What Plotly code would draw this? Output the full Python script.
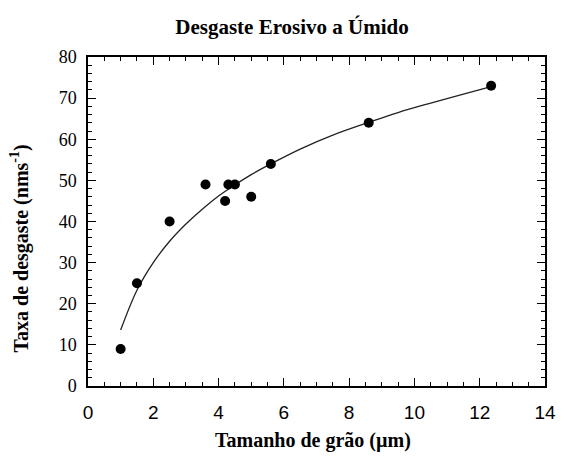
import plotly.graph_objects as go

# Measured data points
grain_size = [1.0, 1.5, 2.5, 3.6, 4.2, 4.3, 4.5, 5.0, 5.6, 8.6, 12.35]
wear_rate = [9, 25, 40, 49, 45, 49, 49, 46, 54, 64, 73]

# Trend curve
curve_x = [1.0, 1.5, 2.0, 2.5, 3.0, 3.5, 4.0, 4.5, 5.0, 5.6, 6.5, 7.5, 8.6, 9.5, 10.5, 11.5, 12.35]
curve_y = [13.6, 23.3, 30.0, 35.2, 39.4, 43.0, 46.2, 48.9, 51.4, 54.0, 57.6, 61.0, 64.1, 66.5, 68.8, 71.0, 72.8]

x_ticks = [0, 2, 4, 6, 8, 10, 12, 14]
y_ticks = [0, 10, 20, 30, 40, 50, 60, 70, 80]

title_text = "Desgaste Erosivo a Úmido"
x_title = "Tamanho de grão (µm)"
y_title = "Taxa de desgaste (nms<sup>-1</sup>)"

fig = go.Figure()
fig.add_trace(go.Scatter(x=curve_x, y=curve_y, mode="lines",
                         line=dict(color="#222222", width=1.3, shape="spline"),
                         showlegend=False, hoverinfo="skip"))
fig.add_trace(go.Scatter(x=grain_size, y=wear_rate, mode="markers",
                         marker=dict(color="black", size=10),
                         showlegend=False))
# invisible trace to activate the mirrored top/right tick axes
fig.add_trace(go.Scatter(x=grain_size, y=wear_rate, mode="markers", xaxis="x2", yaxis="y2",
                         marker=dict(opacity=0), showlegend=False, hoverinfo="skip"))

serif = "Liberation Serif, Times New Roman, serif"
sans = "Liberation Sans, Arial, sans-serif"

tick_common = dict(showgrid=False, zeroline=False, showline=True, linecolor="black", linewidth=1.5,
                   ticks="inside", ticklen=8, tickwidth=1.2, tickcolor="black")

fig.update_layout(
    xaxis=dict(range=[0, 14], tickvals=x_ticks, ticktext=[str(v) for v in x_ticks],
               minor=dict(dtick=0.5, ticks="inside", ticklen=4, tickwidth=1, tickcolor="black"),
               tickfont=dict(family=sans, size=19, color="black"), ticklabelstandoff=8,
               mirror=True, **tick_common),
    yaxis=dict(range=[0, 80], tickvals=y_ticks, ticktext=[str(v) for v in y_ticks],
               minor=dict(dtick=2, ticks="inside", ticklen=4, tickwidth=1, tickcolor="black"),
               tickfont=dict(family=serif, size=18, color="black"), ticklabelstandoff=6,
               mirror=True, **tick_common),
    xaxis2=dict(range=[0, 14], overlaying="x", side="top", anchor="y", tickvals=x_ticks,
                showticklabels=False,
                minor=dict(dtick=0.5, ticks="inside", ticklen=4, tickwidth=1, tickcolor="black"),
                **tick_common),
    yaxis2=dict(range=[0, 80], overlaying="y", side="right", anchor="x", tickvals=y_ticks,
                showticklabels=False,
                minor=dict(dtick=2, ticks="inside", ticklen=4, tickwidth=1, tickcolor="black"),
                **tick_common),
    width=568, height=465,
    margin=dict(l=88, r=13, t=57, b=79),
    paper_bgcolor="white", plot_bgcolor="white",
    title=dict(text="<b>" + title_text + "</b>", x=292 / 568, xref="container", xanchor="center",
               y=1 - 27 / 465, yref="container", yanchor="middle",
               font=dict(family=serif, size=21, color="black")),
    annotations=[
        dict(text="<b>" + x_title + "</b>", xref="paper", yref="paper",
             x=(318 - 88) / 467, y=-(440 - 386) / 329, xanchor="center", yanchor="middle",
             showarrow=False, font=dict(family=serif, size=20, color="black")),
        dict(text="<b>" + y_title + "</b>", xref="paper", yref="paper",
             x=-(88 - 18) / 467, y=(386 - 248) / 329, xanchor="center", yanchor="middle",
             textangle=-90, showarrow=False, font=dict(family=serif, size=20, color="black")),
    ],
)

fig.write_html("out.html")
